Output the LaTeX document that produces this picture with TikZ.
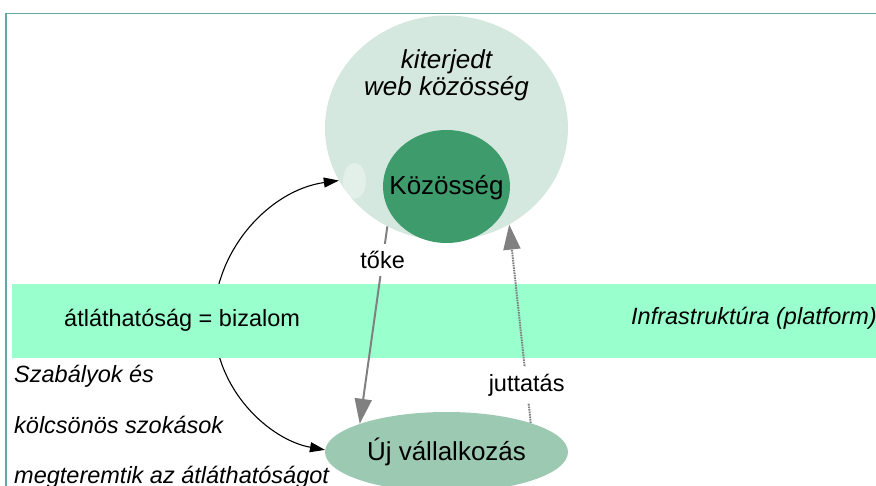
\documentclass[tikz,border=0pt]{standalone}
\usepackage{fontspec}
\setmainfont{Liberation Sans}
\usetikzlibrary{shapes.geometric,arrows.meta}
\definecolor{webgreen}{HTML}{D5E8DF}
\definecolor{commgreen}{HTML}{3E9B6C}
\definecolor{bandgreen}{HTML}{99FFCC}
\definecolor{bizgreen}{HTML}{9CC9B2}
\definecolor{framecol}{HTML}{62A8A2}
\definecolor{arrowgray}{HTML}{808080}

\begin{document}
\begin{tikzpicture}[x=1pt,y=-1pt,
    blob/.style={shape=ellipse, inner sep=0pt},
    txt/.style={inner sep=0pt, font=\fontsize{23.5}{28}\selectfont},
    itxt/.style={inner sep=0pt, font=\fontsize{23.5}{28}\selectfont\itshape},
    bigtxt/.style={font=\fontsize{26}{27}\selectfont},
    flow/.style={draw=arrowgray, fill=arrowgray, line width=2pt, -{Triangle[length=25pt,width=17pt]}},
    flowlabel/.style={txt, fill=white, inner ysep=7pt, inner xsep=2pt}]

    \useasboundingbox (0,0) rectangle (876,486);
    % frame of the slide
    \draw[framecol, line width=1.5pt] (6,486) -- (6,13.5) -- (876,13.5);

    % community circles
    \node[blob, fill=webgreen, minimum width=243pt, minimum height=225pt] (web) at (446.5,128) {};
    \fill[white, opacity=0.35] (354.5,181) ellipse (11.5pt and 18pt);
    \node[blob, fill=commgreen, minimum width=127pt, minimum height=113pt] (comm) at (446.5,186.5) {};
    \node[bigtxt, inner sep=0pt, anchor=base] (commtxt) at (446.5,195) {Közösség};
    \node[bigtxt, font=\fontsize{26}{27}\selectfont\itshape, inner sep=0pt, align=center] (webtxt) at (446.5,75) {kiterjedt\\web közösség};
    \node[blob, bigtxt, fill=bizgreen, minimum width=243pt, minimum height=80pt] (ujv) at (446.5,452) {Új vállalkozás};

    % trust loop (under the band)
    \draw[line width=1.1pt, {Triangle[length=15pt,width=10pt]}-{Triangle[length=15pt,width=10pt]}]
        (web.206) .. controls (270,190) and (214,250) .. (214,320)
        .. controls (214,390) and (270,440) .. (ujv.179);

    % platform band
    \node[fill=bandgreen, minimum width=864pt, minimum height=74pt, inner sep=0pt, anchor=north west] (band) at (12,284) {};
    \node[txt, anchor=base west] (trust) at (64,327) {átláthatóság = bizalom};
    \node[itxt, anchor=base west] (infra) at (631,325) {Infrastruktúra (platform)};

    % flows
    \draw[flow] (web.239) -- node[flowlabel, pos=0.17] (toke) {tőke} (ujv.162);
    \draw[flow, dash pattern=on 1.5pt off 1pt] (ujv.19) -- node[flowlabel, pos=0.19] (jutt) {juttatás} (web.303);

    % rules text
    \node[itxt, anchor=base west] (rule1) at (14,383) {Szabályok és};
    \node[itxt, anchor=base west] (rule2) at (14,433) {kölcsönös szokások};
    \node[itxt, anchor=base west] (rule3) at (14,483) {megteremtik az átláthatóságot};

\end{tikzpicture}
\end{document}
